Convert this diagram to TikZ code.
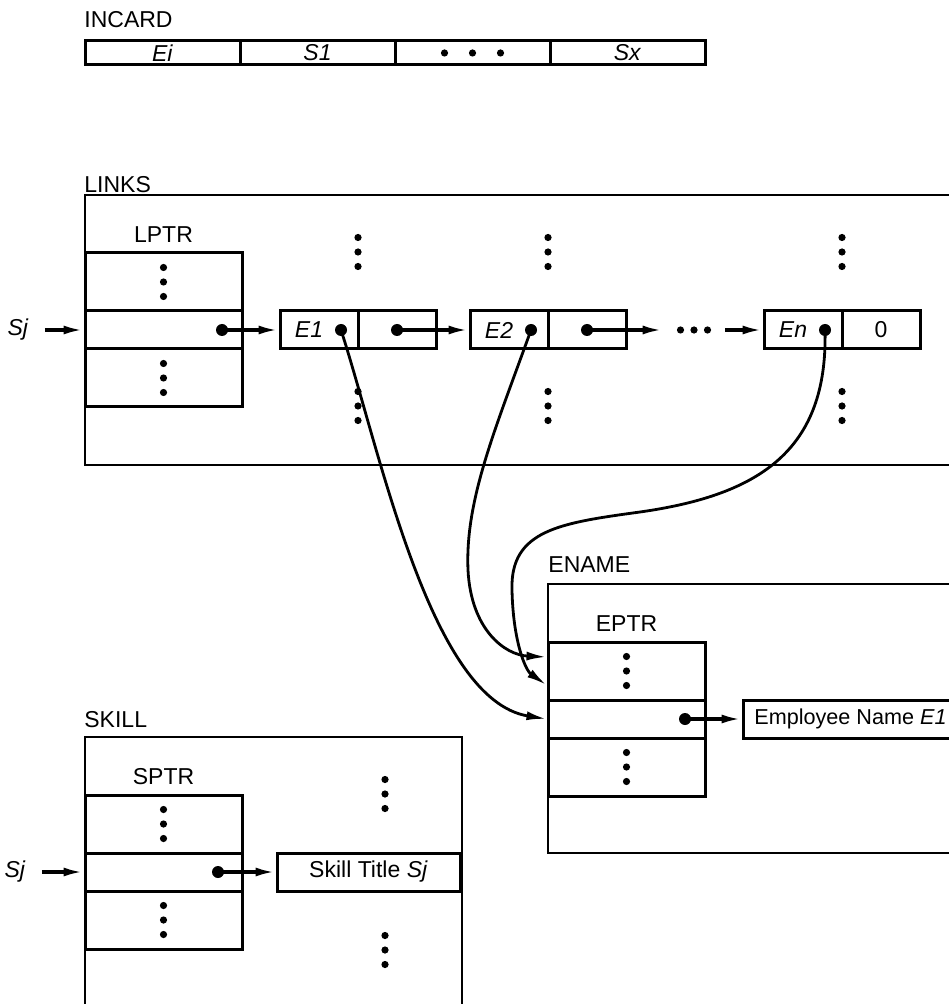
\documentclass[tikz,border=0pt]{standalone}
\usepackage{fontspec}
\setmainfont{Liberation Sans}
\usetikzlibrary{arrows.meta}

\begin{document}
\begin{tikzpicture}[x=0.5pt, y=-0.5pt,
  font=\fontsize{11.5}{13}\selectfont, >={Latex[length=10pt,width=4.5pt]},
  lbl/.style={inner sep=0pt},
  frame/.style={draw, line width=1.4pt},
  cardcell/.style={draw, line width=1.5pt, inner sep=0pt, minimum width=77.5pt, minimum height=12pt},
  tabrow/.style={draw, line width=1.5pt, inner sep=0pt, minimum width=78.5pt, minimum height=#1},
  link/.style={draw, line width=1.5pt, inner sep=0pt, minimum width=39pt, minimum height=19pt},
  namebox/.style={draw, line width=1.5pt, inner sep=0pt, minimum width=#1, minimum height=19pt},
  tail/.style={circle, fill, inner sep=0pt, minimum size=6pt},
  arr/.style={->, line width=1.7pt},
  curve/.style={->, line width=1.4pt},
  pics/dotcol/.style={code={\foreach \k in {-1,0,1} \fill (0,\k*14.5) circle (1.8pt);}},
  pics/dotrow/.style={code={\foreach \k in {-1,0,1} \fill (\k*#1,0) circle (1.8pt);}}]
\useasboundingbox (0,0) rectangle (948,1004);

% INCARD record
\node[lbl, anchor=west] (incard) at (84,20) {INCARD};
\node[cardcell] (c1) at (162.5,53) {\textit{Ei}};
\node[cardcell] (c2) at (317.5,53) {\textit{S1}};
\node[cardcell] (c3) at (472.5,53) {};
\node[cardcell] (c4) at (627.5,53) {\textit{Sx}};
\pic at (c3) {dotrow=28};

% LINKS area with LPTR table
\node[lbl, anchor=west] (linkslbl) at (84,185) {LINKS};
\draw[frame] (85,195) rectangle (962,465);
\node[lbl] (lptrlbl) at (163.5,235) {LPTR};
\node[tabrow=29pt] (lptr1) at (163.5,282) {};
\node[tabrow=19pt] (lptr2) at (163.5,330) {};
\node[tabrow=29pt] (lptr3) at (163.5,378) {};
\pic at (lptr1) {dotcol};
\pic at (lptr3) {dotcol};
\node[tail] (lptrdot) at (222,330) {};
\node[lbl] (sjl) at (18,330) {\textit{Sj}};
\draw[arr] ([xshift=8pt]sjl.east) -- (lptr2.west);

% chain of links E1, E2, ..., En
\node[link] (e1a) at (319,330) {};
\node[link] (e1b) at (397,330) {};
\node[lbl] at ([xshift=-5pt]e1a.center) {\textit{E1}};
\node[tail] (e1key) at ([xshift=11pt]e1a.center) {};
\node[tail] (e1nxt) at (e1b) {};
\node[link] (e2a) at (509,330) {};
\node[link] (e2b) at (587,330) {};
\node[lbl] at ([xshift=-5pt]e2a.center) {\textit{E2}};
\node[tail] (e2key) at ([xshift=11pt]e2a.center) {};
\node[tail] (e2nxt) at (e2b) {};
\node[inner sep=0pt, minimum width=31pt] (more) at (694,330) {};
\pic at (more) {dotrow=13.5};
\node[link] (ena) at (803,330) {};
\node[link] (enb) at (881,330) {0};
\node[lbl] at ([xshift=-5pt]ena.center) {\textit{En}};
\node[tail] (enkey) at ([xshift=11pt]ena.center) {};
\draw[arr] (lptrdot.center) -- (e1a.west);
\draw[arr] (e1nxt.center) -- (e2a.west);
\draw[arr] (e2nxt.center) -- (more.west);
\draw[arr] (more.east) -- (ena.west);
\foreach \x in {358,548,842} {
  \pic at (\x,252) {dotcol};
  \pic at (\x,406) {dotcol};
}

% ENAME area with EPTR table
\node[lbl, anchor=west] (enamelbl) at (548,565) {ENAME};
\draw[frame] (548,584) rectangle (962,853);
\node[lbl] (eptrlbl) at (626.5,624) {EPTR};
\node[tabrow=29pt] (eptr1) at (626.5,671) {};
\node[tabrow=19pt] (eptr2) at (626.5,719) {};
\node[tabrow=29pt] (eptr3) at (626.5,767) {};
\pic at (eptr1) {dotcol};
\pic at (eptr3) {dotcol};
\node[tail] (eptrdot) at (685,719) {};
\node[namebox=107.5pt, font=\fontsize{10.8}{12}\selectfont] (empname) at (850.5,719) {Employee Name \textit{E1}};
\draw[arr] (eptrdot.center) -- (empname.west);

% SKILL area with SPTR table
\node[lbl, anchor=west] (skilllbl) at (84,720) {SKILL};
\draw[frame] (85,737) rectangle (462,1015);
\node[lbl] (sptrlbl) at (163.5,777) {SPTR};
\node[tabrow=29pt] (sptr1) at (163.5,824) {};
\node[tabrow=19pt] (sptr2) at (163.5,872) {};
\node[tabrow=29pt] (sptr3) at (163.5,920) {};
\pic at (sptr1) {dotcol};
\pic at (sptr3) {dotcol};
\node[tail] (sptrdot) at (218,872) {};
\node[namebox=91.5pt] (skilltitle) at (368.5,872) {Skill Title \textit{Sj}};
\node[lbl] (sjs) at (15,872) {\textit{Sj}};
\draw[arr] ([xshift=8pt]sjs.east) -- (sptr2.west);
\draw[arr] (sptrdot.center) -- (skilltitle.west);
\pic at (385,794) {dotcol};
\pic at (385,950) {dotcol};

% links into ENAME
\draw[curve] (e1key.center) .. controls (380,450) and (430,700) .. (eptr2.west);
\draw[curve] (e2key.center) .. controls (495,430) and (465,500) .. (468,570)
  .. controls (471,630) and (505,655) .. ([yshift=7pt]eptr1.west);
\draw[curve] (enkey.center) .. controls (828,450) and (760,495) .. (640,512)
  .. controls (560,523) and (510,530) .. (512,590)
  .. controls (513,640) and (525,670) .. ([yshift=-7pt]eptr1.west);
\end{tikzpicture}
\end{document}
